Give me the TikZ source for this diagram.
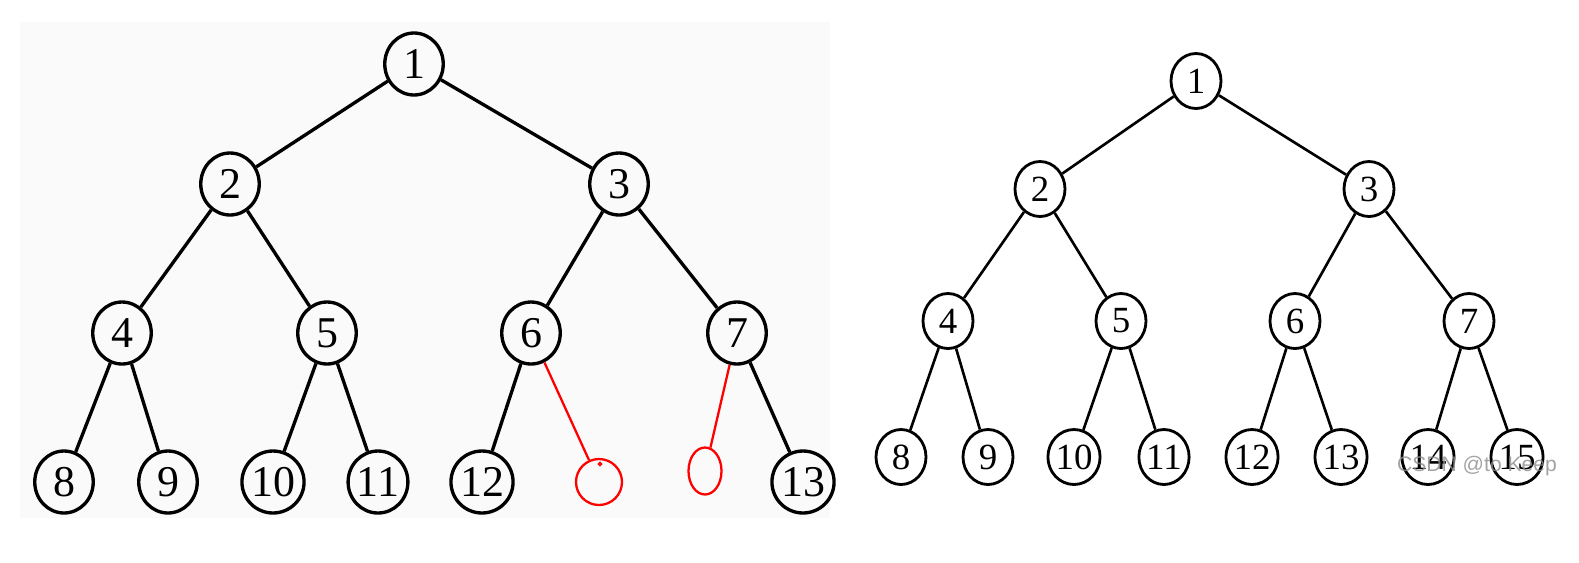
\documentclass[tikz,border=0pt]{standalone}
\usepackage{fontspec}
\setmainfont{Liberation Serif}
\setsansfont{Liberation Sans}
\usetikzlibrary{shapes.geometric}
\begin{document}
\begin{tikzpicture}[x=0.02cm,y=-0.02cm,
  lnode/.style={draw=black,line width=1.9pt,ellipse,inner sep=0pt,minimum width=1.17cm,minimum height=1.24cm,font=\fontsize{25}{25}\selectfont},
  rnode/.style={draw=black,line width=1.6pt,ellipse,inner sep=0pt,minimum width=1.0cm,minimum height=1.1cm,font=\fontsize{21}{21}\selectfont},
  ledge/.style={line width=1.9pt},
  redge/.style={line width=1.5pt},
  rededge/.style={draw=red,line width=1.3pt},
  redring/.style={draw=red,line width=1.3pt,ellipse,inner sep=0pt}]
\useasboundingbox (0,0) rectangle (1579,562);
\fill[black!2] (20,22) rectangle (830,518);
% left tree
\node[lnode] (L1) at (414,64) {1};
\node[lnode] (L2) at (230,184) {2};
\node[lnode] (L3) at (619,184) {3};
\node[lnode] (L4) at (122,333) {4};
\node[lnode] (L5) at (327,333) {5};
\node[lnode] (L6) at (531,333) {6};
\node[lnode] (L7) at (737,333) {7};
\node[lnode] (L8) at (64,482) {8};
\node[lnode] (L9) at (168,482) {9};
\node[lnode] (L10) at (273,482) {10};
\node[lnode] (L11) at (378,482) {11};
\node[lnode] (L12) at (482,482) {12};
\node[lnode] (L13) at (803,482) {13};
\node[redring,minimum width=0.92cm,minimum height=0.92cm] (R1) at (599,482) {};
\node[redring,minimum width=0.66cm,minimum height=0.94cm] (R2) at (705,471) {};
\draw[red,line width=0.8pt] (600,464) circle[radius=1.6];
\draw[ledge] (L1) -- (L2);
\draw[ledge] (L1) -- (L3);
\draw[ledge] (L2) -- (L4);
\draw[ledge] (L2) -- (L5);
\draw[ledge] (L3) -- (L6);
\draw[ledge] (L3) -- (L7);
\draw[ledge] (L4) -- (L8);
\draw[ledge] (L4) -- (L9);
\draw[ledge] (L5) -- (L10);
\draw[ledge] (L5) -- (L11);
\draw[ledge] (L6) -- (L12);
\draw[ledge] (L7) -- (L13);
\draw[rededge] (L6) -- (R1);
\draw[rededge] (L7) -- (R2);
% right tree
\node[rnode] (N1) at (1196,81) {1};
\node[rnode] (N2) at (1040,189) {2};
\node[rnode] (N3) at (1369,189) {3};
\node[rnode] (N4) at (948,321) {4};
\node[rnode] (N5) at (1121,321) {5};
\node[rnode] (N6) at (1295,321) {6};
\node[rnode] (N7) at (1469,321) {7};
\node[rnode] (N8) at (901,457) {8};
\node[rnode] (N9) at (988,457) {9};
\node[rnode] (N10) at (1074,457) {10};
\node[rnode] (N11) at (1164,457) {11};
\node[rnode] (N12) at (1252,457) {12};
\node[rnode] (N13) at (1341,457) {13};
\node[rnode] (N14) at (1428,457) {14};
\node[rnode] (N15) at (1517,457) {15};
\draw[redge] (N1) -- (N2);
\draw[redge] (N1) -- (N3);
\draw[redge] (N2) -- (N4);
\draw[redge] (N2) -- (N5);
\draw[redge] (N3) -- (N6);
\draw[redge] (N3) -- (N7);
\draw[redge] (N4) -- (N8);
\draw[redge] (N4) -- (N9);
\draw[redge] (N5) -- (N10);
\draw[redge] (N5) -- (N11);
\draw[redge] (N6) -- (N12);
\draw[redge] (N6) -- (N13);
\draw[redge] (N7) -- (N14);
\draw[redge] (N7) -- (N15);
\node[text=black!45,opacity=0.8,font=\sffamily\fontsize{12}{12}\selectfont] (wm) at (1477,466) {CSDN @to Keep};
\end{tikzpicture}
\end{document}
